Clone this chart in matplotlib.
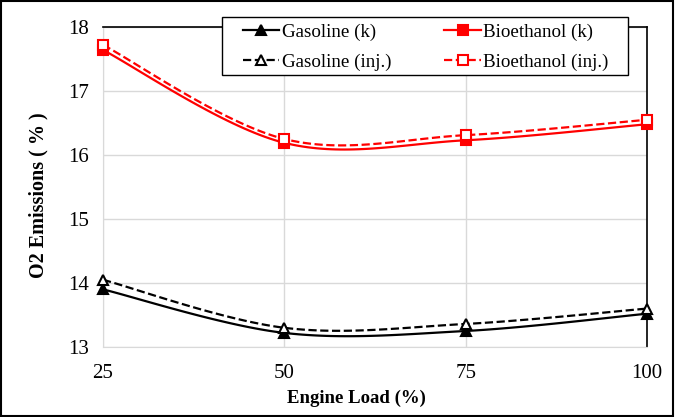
import numpy as np
import matplotlib.pyplot as plt
from matplotlib.patches import Rectangle

plt.rcParams['font.family'] = ['Liberation Serif', 'DejaVu Serif']

load = [25, 50, 75, 100]
gasoline_k = [13.90, 13.22, 13.25, 13.52]
gasoline_inj = [14.05, 13.30, 13.36, 13.60]
bioethanol_k = [17.64, 16.19, 16.23, 16.48]
bioethanol_inj = [17.72, 16.25, 16.31, 16.55]


def smooth(x, y, n=40):
    # Excel-style smoothed line (Bezier through the points)
    x = np.asarray(x, float)
    y = np.asarray(y, float)
    px = np.concatenate([[x[0]], x, [x[-1]]])
    py = np.concatenate([[y[0]], y, [y[-1]]])
    xs, ys = [], []
    t = np.linspace(0, 1, n)
    for i in range(1, len(px) - 2):
        p0 = np.array([px[i], py[i]])
        p3 = np.array([px[i + 1], py[i + 1]])
        p1 = p0 + (np.array([px[i + 1], py[i + 1]]) - np.array([px[i - 1], py[i - 1]])) / 6
        p2 = p3 - (np.array([px[i + 2], py[i + 2]]) - np.array([px[i], py[i]])) / 6
        b = (((1 - t) ** 3)[:, None] * p0 + (3 * (1 - t) ** 2 * t)[:, None] * p1
             + (3 * (1 - t) * t ** 2)[:, None] * p2 + (t ** 3)[:, None] * p3)
        xs.append(b[:, 0])
        ys.append(b[:, 1])
    return np.concatenate(xs), np.concatenate(ys)


fig = plt.figure(figsize=(6.75, 4.17), dpi=100)
ax = fig.add_axes([0.1526, 0.1679, 0.8059, 0.7674])

series = [
    (gasoline_k, 'black', '-', '^', 'black', 'Gasoline (k)'),
    (bioethanol_k, 'red', '-', 's', 'red', 'Bioethanol (k)'),
    (gasoline_inj, 'black', '--', '^', 'white', 'Gasoline (inj.)'),
    (bioethanol_inj, 'red', '--', 's', 'white', 'Bioethanol (inj.)'),
]
handles = {}
for vals, col, ls, mk, mfc, lab in series:
    sx, sy = smooth(load, vals)
    ax.plot(sx, sy, color=col, ls=ls, lw=1.6, zorder=3)
    ax.plot(load, vals, ls='none', marker=mk, ms=6.5, color=col, mfc=mfc,
            mec=col, mew=1.5, zorder=4, clip_on=False)
    h, = ax.plot([], [], color=col, ls=ls, lw=1.6, marker=mk, ms=6.5,
                 mfc=mfc, mec=col, mew=1.5)
    handles[lab] = h

ax.set_xlim(25, 100)
ax.set_ylim(13, 18)
ax.set_xticks(load)
ax.set_yticks([13, 14, 15, 16, 17, 18])
ax.grid(True, color='#d9d9d9', lw=1)
ax.set_axisbelow(True)
ax.tick_params(length=0, labelsize=15)
ax.tick_params(axis='x', pad=12)
ax.tick_params(axis='y', pad=10)
ax.spines['left'].set_color('#d9d9d9')
ax.spines['bottom'].set_color('#d9d9d9')
ax.spines['top'].set_color('black')
ax.spines['right'].set_color('black')
ax.spines['top'].set_linewidth(1.2)
ax.spines['right'].set_linewidth(1.2)

ax.set_xlabel('Engine Load (%)', fontsize=13.5, fontweight='bold')
ax.xaxis.set_label_coords(0.465, -0.134)
ax.set_ylabel('O2 Emissions ( % )', fontsize=14.5, fontweight='bold')
ax.yaxis.set_label_coords(-0.101, 0.475)

# legend box drawn separately so its padding matches the original
fig.patches.append(Rectangle((222 / 675, 1 - 75 / 417), 406 / 675, 58 / 417,
                             transform=fig.transFigure, facecolor='white',
                             edgecolor='black', lw=1.0, zorder=9))
order = ['Gasoline (k)', 'Gasoline (inj.)', 'Bioethanol (k)', 'Bioethanol (inj.)']
leg = fig.legend([handles[k] for k in order], order, ncol=2,
                 loc='upper left', bbox_to_anchor=(236 / 675, 1 - 17 / 417),
                 fontsize=13.7, frameon=False, handlelength=1.9,
                 handletextpad=0.15, columnspacing=2.8, borderpad=0.35,
                 labelspacing=0.65, borderaxespad=0)
leg.set_zorder(10)

fig.patches.append(Rectangle((0.002, 0.003), 0.995, 0.994, transform=fig.transFigure,
                             fill=False, edgecolor='black', lw=1.5))

fig.savefig('out.png', dpi=100)
